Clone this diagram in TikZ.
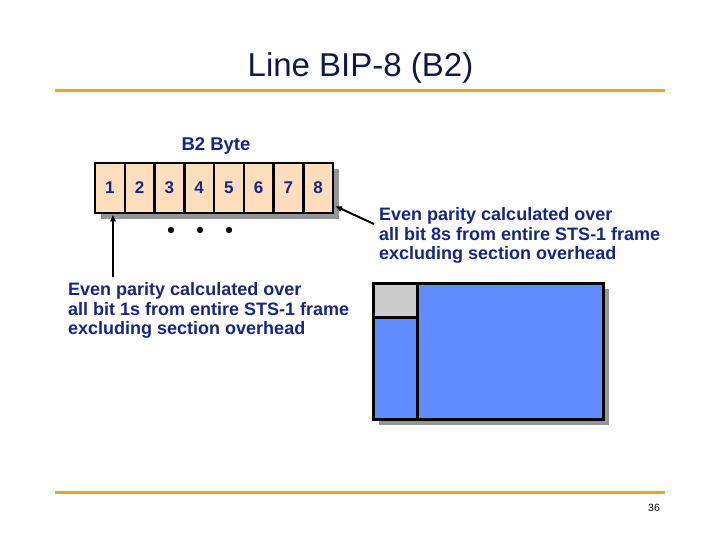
\documentclass[tikz,border=0pt]{standalone}
\usepackage{fontspec}
\setmainfont{Liberation Sans}
\usepackage{xcolor}
\usepackage{tikz}
\usetikzlibrary{arrows.meta}

\definecolor{titleblue}{RGB}{16,24,70}
\definecolor{textblue}{RGB}{22,38,130}
\definecolor{rulegold}{RGB}{230,166,40}
\definecolor{cellpeach}{RGB}{252,222,188}
\definecolor{framefill}{RGB}{96,142,255}
\definecolor{ohgray}{RGB}{204,204,204}
\definecolor{shadowgray}{RGB}{150,150,150}

\tikzset{
  cell/.style={draw=black, line width=2.5pt, fill=cellpeach, minimum width=29.75pt,
    minimum height=50pt, inner sep=0pt, font=\fontsize{17}{20}\selectfont\bfseries, text=textblue},
  note/.style={align=left, anchor=north west, inner sep=0pt, text=textblue,
    font=\fontsize{18}{19.8}\selectfont\bfseries},
  pointer/.style={line width=2pt, -{Latex[length=7pt,width=6pt]}}
}

\begin{document}
\begin{tikzpicture}[x=1pt, y=-1pt]
      \useasboundingbox (0,0) rectangle (721,541);
      % title and rules
      \node[text=titleblue, font=\fontsize{33}{38}\selectfont] (title) at (360.5,68) {Line BIP-8 (B2)};
      \draw[rulegold, line width=3pt] (55,90) -- (665,90);
      \draw[rulegold, line width=3pt] (55,492) -- (665,492);
      \node[font=\fontsize{10.5}{12}\selectfont] (page) at (654,508) {36};
      % the B2 byte
      \node[text=textblue, font=\fontsize{18.5}{20}\selectfont\bfseries] (bytelabel) at (216,146) {B2 Byte};
      \fill[shadowgray] (101,169) rectangle (339,219);
      \foreach \i in {1,...,8}
        \node[cell] (c\i) at ({95+(\i-0.5)*29.75},188) {\i};
      \foreach \x/\n in {171/d1, 200/d2, 229/d3}
        \fill (\x,230) circle (3.2pt) coordinate (\n);
      % notes and pointers
      \node[note] (lownote) at (68,282) {Even parity calculated over\\all bit 1s from entire STS-1 frame\\excluding section overhead};
      \node[note] (highnote) at (379,207) {Even parity calculated over\\all bit 8s from entire STS-1 frame\\excluding section overhead};
      \coordinate (p1) at (113,277);
      \coordinate (p8) at (374,224);
      \draw[pointer] (p1) -- (p1 |- c1.south);
      \draw[pointer] (p8) -- (335,206);
      % STS-1 frame
      \fill[shadowgray] (379,289) rectangle (609,425);
      \draw[line width=3pt, fill=framefill] (373,283) rectangle (603,419);
      \draw[line width=3pt, fill=ohgray] (373,283) rectangle (417,317);
      \draw[line width=3pt] (417,283) -- (417,419);
    \end{tikzpicture}
\end{document}
